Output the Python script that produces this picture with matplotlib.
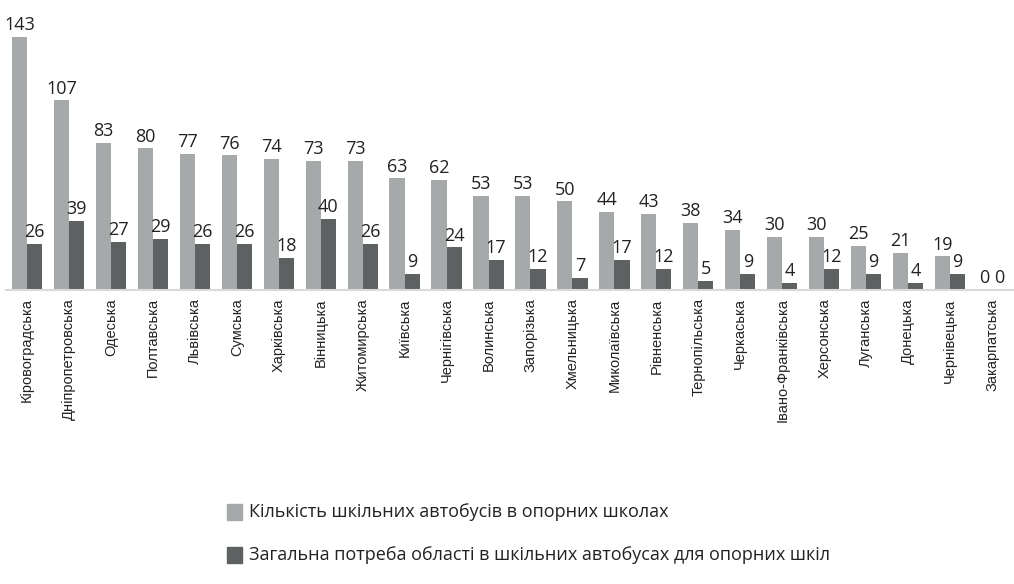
import matplotlib
matplotlib.use("Agg")
import matplotlib.pyplot as plt
import numpy as np
from matplotlib.patches import Rectangle

categories = ["Кіровоградська", "Дніпропетровська", "Одеська", "Полтавська", "Львівська",
              "Сумська", "Харківська", "Вінницька", "Житомирська", "Київська", "Чернігівська",
              "Волинська", "Запорізька", "Хмельницька", "Миколаївська", "Рівненська",
              "Тернопільська", "Черкаська", "Івано-Франківська", "Херсонська", "Луганська",
              "Донецька", "Чернівецька", "Закарпатська"]
buses = [143, 107, 83, 80, 77, 76, 74, 73, 73, 63, 62, 53, 53, 50, 44, 43, 38, 34, 30, 30, 25, 21, 19, 0]
need = [26, 39, 27, 29, 26, 26, 18, 40, 26, 9, 24, 17, 12, 7, 17, 12, 5, 9, 4, 12, 9, 4, 9, 0]
series_names = ["Кількість шкільних автобусів в опорних школах",
                "Загальна потреба області в шкільних автобусах для опорних шкіл"]

plt.rcParams['font.family'] = ['Open Sans', 'DejaVu Sans']
c1 = "#a6a9a9"
c2 = "#5d6162"

W, H = 1014, 584
fig = plt.figure(figsize=(W/100, H/100), dpi=100)
ax = fig.add_axes([6/W, 1-290/H, (1013-6)/W, (290-10)/H])
x = np.arange(len(categories))
bw = 0.36
b1 = ax.bar(x - bw/2, buses, bw, color=c1)
b2 = ax.bar(x + bw/2, need, bw, color=c2)
for rect, v in zip(b1, buses):
    ax.text(rect.get_x() + rect.get_width()/2, v + 1.5, str(v), ha='center', va='bottom',
            fontsize=13, color='#222222')
for rect, v in zip(b2, need):
    ax.text(rect.get_x() + rect.get_width()/2, v + 1.5, str(v), ha='center', va='bottom',
            fontsize=13, color='#222222')
ax.set_xlim(-0.5, len(categories) - 0.5)
ax.set_ylim(0, 158)
ax.set_xticks(x)
ax.set_xticklabels(categories, rotation=90, fontsize=10.5, color='#222222',
                   family=['Liberation Sans', 'DejaVu Sans'])
ax.tick_params(axis='x', length=0, pad=6)
ax.set_yticks([])
for s in ['top', 'right', 'left']:
    ax.spines[s].set_visible(False)
ax.spines['bottom'].set_color('#d9d9d9')
ax.spines['bottom'].set_linewidth(1.5)

# legend
for i, (name, col) in enumerate(zip(series_names, [c1, c2])):
    yc = 512 + i * 43
    fig.patches.append(Rectangle((227/W, 1-(yc+8)/H), 15/W, 16/H, transform=fig.transFigure,
                                 color=col, figure=fig))
    fig.text(249/W, 1-yc/H, name, ha='left', va='center', fontsize=13, color='#222222')

fig.savefig("out.png", dpi=100)
